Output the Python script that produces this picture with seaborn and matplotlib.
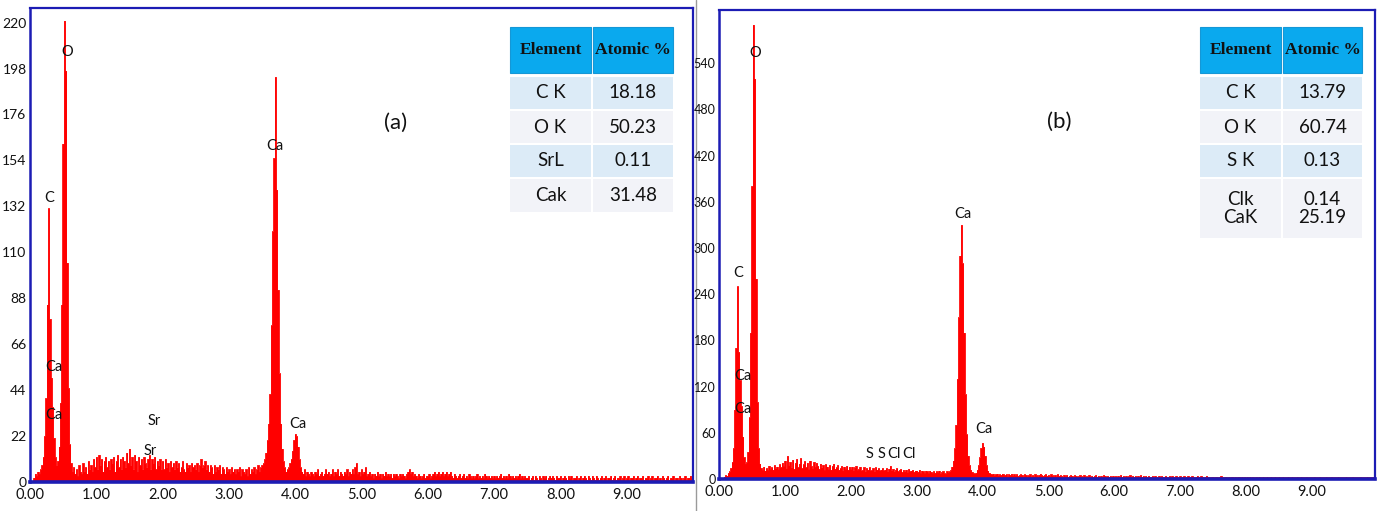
import numpy as np
import pandas as pd
import matplotlib
matplotlib.use("Agg")
import matplotlib.pyplot as plt
from matplotlib.patches import Rectangle
from matplotlib.lines import Line2D
import seaborn as sns

# ---------------------------------------------------------------- data
CHANNEL_KEV = 0.02  # channel width of the spectra (keV)

# EDS counts, sample (a): 0.00 - 9.98 keV, 25 channels per line (0.5 keV)
counts_a = [
    0, 0, 0, 2, 4, 3, 5, 4, 6, 8, 12, 22, 40, 85, 131, 78, 50, 36, 21, 12, 8, 10, 17, 38, 85,
    162, 221, 197, 105, 45, 18, 9, 5, 7, 4, 6, 3, 8, 5, 4, 9, 5, 7, 4, 10, 6, 8, 5, 11, 7,
    12, 6, 13, 8, 11, 5, 10, 12, 7, 10, 6, 11, 9, 12, 5, 10, 13, 7, 11, 6, 12, 10, 7, 14, 9,
    16, 8, 12, 6, 13, 10, 5, 12, 8, 11, 6, 12, 9, 7, 11, 13, 6, 11, 9, 12, 6, 10, 8, 11, 6,
    10, 6, 11, 7, 9, 5, 10, 7, 9, 6, 10, 7, 9, 5, 7, 10, 6, 5, 9, 7, 8, 5, 9, 7, 8,
    6, 9, 5, 8, 11, 7, 8, 10, 6, 8, 5, 8, 7, 4, 8, 5, 7, 6, 8, 4, 7, 6, 4, 7, 5,
    6, 4, 7, 5, 6, 4, 6, 5, 7, 3, 6, 5, 4, 6, 3, 7, 4, 6, 5, 7, 4, 6, 8, 5, 7,
    8, 9, 11, 14, 20, 28, 42, 75, 120, 155, 194, 140, 92, 52, 28, 16, 10, 7, 5, 6, 7, 9, 11, 15, 20,
    23, 22, 17, 11, 7, 5, 4, 6, 3, 5, 4, 3, 5, 4, 3, 5, 4, 6, 3, 4, 5, 3, 4, 6, 4,
    5, 3, 4, 6, 3, 5, 4, 6, 3, 5, 4, 3, 5, 4, 6, 3, 5, 4, 6, 4, 7, 9, 4, 5, 3,
    6, 4, 5, 7, 3, 4, 5, 3, 4, 2, 4, 3, 5, 3, 4, 2, 4, 3, 5, 3, 4, 3, 4, 2, 4,
    3, 4, 3, 2, 4, 3, 4, 3, 2, 4, 5, 6, 4, 5, 3, 4, 3, 2, 4, 3, 2, 3, 4, 2, 3,
    3, 4, 2, 3, 4, 5, 3, 4, 5, 3, 4, 5, 3, 4, 5, 3, 4, 5, 3, 2, 4, 3, 2, 3, 4,
    2, 3, 4, 2, 3, 2, 4, 3, 2, 3, 2, 3, 4, 2, 3, 2, 3, 2, 4, 3, 2, 3, 2, 3, 2,
    3, 2, 3, 2, 3, 4, 2, 3, 2, 3, 2, 4, 3, 2, 3, 2, 3, 2, 3, 4, 2, 3, 2, 3, 2,
    2, 3, 1, 2, 3, 1, 3, 2, 1, 3, 2, 1, 3, 2, 3, 1, 2, 3, 2, 3, 2, 1, 3, 2, 2,
    3, 1, 2, 3, 2, 1, 3, 2, 3, 1, 2, 2, 3, 1, 2, 3, 1, 2, 3, 2, 1, 3, 2, 1, 3,
    2, 1, 3, 2, 1, 2, 3, 1, 2, 3, 1, 2, 2, 3, 1, 2, 3, 1, 2, 2, 3, 1, 2, 3, 1,
    2, 3, 1, 2, 2, 3, 1, 2, 3, 1, 2, 2, 3, 1, 2, 2, 3, 1, 2, 3, 1, 2, 2, 3, 1,
    2, 1, 3, 2, 1, 2, 3, 1, 2, 2, 3, 1, 2, 2, 1, 3, 2, 1, 2, 3, 1, 2, 2, 3, 2,
]

# EDS counts, sample (b): 0.00 - 9.98 keV, 25 channels per line (0.5 keV)
counts_b = [
    0, 0, 0, 0, 3, 5, 4, 8, 10, 14, 22, 40, 90, 170, 250, 165, 128, 95, 55, 28, 20, 22, 35, 80, 190,
    380, 590, 520, 260, 100, 40, 20, 14, 12, 16, 11, 14, 12, 17, 13, 15, 12, 18, 14, 16, 13, 19, 15, 21, 17,
    24, 14, 30, 18, 22, 15, 25, 13, 21, 26, 15, 20, 27, 14, 19, 23, 15, 21, 13, 24, 17, 14, 22, 16, 21,
    17, 13, 20, 15, 18, 12, 19, 16, 13, 18, 12, 17, 20, 13, 15, 18, 12, 14, 17, 11, 16, 13, 17, 12, 16,
    13, 16, 11, 15, 17, 12, 13, 16, 11, 12, 15, 10, 14, 12, 15, 11, 12, 14, 10, 15, 12, 14, 11, 12, 14,
    11, 12, 14, 10, 13, 17, 11, 13, 10, 12, 14, 10, 12, 13, 9, 12, 10, 12, 9, 13, 10, 11, 12, 9, 11,
    11, 9, 12, 8, 11, 10, 8, 11, 10, 8, 11, 9, 8, 10, 8, 10, 9, 11, 7, 9, 10, 8, 7, 10, 9,
    10, 12, 16, 24, 40, 70, 130, 210, 290, 330, 280, 190, 110, 58, 30, 18, 12, 9, 8, 7, 8, 12, 18, 28, 40,
    47, 42, 30, 18, 11, 8, 7, 6, 7, 5, 6, 7, 5, 6, 5, 7, 6, 5, 6, 4, 6, 5, 7, 5, 6,
    5, 6, 4, 5, 6, 5, 4, 6, 5, 4, 5, 6, 4, 5, 4, 6, 5, 4, 5, 7, 5, 4, 5, 6, 4,
    5, 4, 6, 5, 4, 5, 4, 6, 4, 5, 4, 3, 5, 4, 5, 3, 4, 5, 4, 3, 5, 4, 3, 4, 5,
    4, 3, 5, 4, 3, 4, 5, 3, 4, 3, 4, 5, 3, 4, 3, 4, 3, 5, 4, 3, 4, 3, 4, 3, 4,
    3, 4, 3, 4, 3, 5, 3, 4, 3, 4, 3, 4, 5, 3, 4, 3, 4, 3, 4, 3, 5, 3, 4, 3, 4,
    3, 4, 3, 3, 4, 3, 4, 3, 3, 4, 3, 4, 3, 3, 4, 3, 3, 4, 3, 4, 3, 3, 4, 3, 3,
    4, 3, 3, 4, 3, 3, 4, 3, 3, 4, 3, 2, 3, 4, 3, 3, 4, 3, 2, 3, 4, 3, 3, 2, 3,
    3, 2, 3, 3, 2, 3, 4, 3, 2, 3, 3, 2, 3, 2, 3, 3, 2, 3, 2, 3, 3, 2, 3, 2, 3,
    2, 3, 2, 3, 2, 3, 2, 2, 3, 2, 3, 2, 2, 3, 2, 2, 3, 2, 2, 3, 2, 2, 3, 2, 2,
    3, 2, 2, 3, 2, 2, 2, 3, 2, 2, 3, 2, 2, 2, 3, 2, 2, 3, 2, 2, 2, 3, 2, 2, 2,
    2, 2, 3, 2, 2, 2, 3, 2, 2, 2, 2, 3, 2, 2, 2, 3, 2, 2, 2, 2, 3, 2, 2, 2, 2,
    2, 3, 2, 2, 2, 2, 3, 2, 2, 2, 2, 2, 3, 2, 2, 2, 2, 3, 2, 2, 2, 2, 2, 3, 2,
]

# peak annotations: (label, energy keV, counts)
peaks_a = [("C", 0.29, 136), ("O", 0.56, 206), ("Ca", 0.36, 55), ("Ca", 0.36, 32),
           ("Ca", 3.70, 161), ("Ca", 4.04, 28), ("Sr", 1.88, 29), ("Sr", 1.82, 15)]
peaks_b = [("C", 0.29, 268), ("O", 0.55, 553), ("Ca", 0.36, 134), ("Ca", 0.36, 91),
           ("Ca", 3.70, 344), ("Ca", 4.02, 65),
           ("S", 2.29, 32), ("S", 2.46, 32), ("Cl", 2.65, 32), ("Cl", 2.88, 32)]

# quantification tables
elements_a = ["C K", "O K", "SrL", "Cak"]
atomic_a = ["18.18", "50.23", "0.11", "31.48"]
elements_b = ["C K", "O K", "S K", "Clk\nCaK"]
atomic_b = ["13.79", "60.74", "0.13", "0.14\n25.19"]

x_ticks = [0, 1, 2, 3, 4, 5, 6, 7, 8, 9]
y_ticks_a = [0, 22, 44, 66, 88, 110, 132, 154, 176, 198, 220]
y_ticks_b = [0, 60, 120, 180, 240, 300, 360, 420, 480, 540]

# ---------------------------------------------------------------- style
sns.set_theme(style="white")
SANS = ["Lato", "DejaVu Sans"]
plt.rcParams["font.family"] = SANS

W, H = 1383, 511
FRAME = "#1c1cb4"
fig = plt.figure(figsize=(W / 100, H / 100), dpi=100)


def fx(px):
    return px / W


def fy(py):
    return 1 - py / H


def spectrum_axes(box, counts, xmax, ymax, yticks, ytick_size, peaks, tag, tag_xy):
    left, top, right, bottom = box
    ax = fig.add_axes([fx(left), fy(bottom), fx(right - left), (bottom - top) / H])
    df = pd.DataFrame({"energy": np.arange(len(counts)) * CHANNEL_KEV,
                       "counts": counts})
    ax.fill_between(df["energy"], df["counts"], step="mid", color="#ff0000", lw=0)
    sns.lineplot(data=df, x="energy", y="counts", ax=ax, color="#ff0000",
                 lw=0.6, drawstyle="steps-mid", estimator=None)
    ax.set_xlim(0, xmax)
    ax.set_ylim(0, ymax)
    ax.set_xticks(x_ticks)
    ax.set_xticklabels([f"{v:.2f}" for v in x_ticks])
    ax.set_yticks(yticks)
    ax.set_yticklabels([str(v) for v in yticks])
    ax.set_xlabel("")
    ax.set_ylabel("")
    ax.tick_params(axis="both", colors="#111111", length=2,
                   width=0.8, direction="out")
    ax.tick_params(axis="x", pad=2, labelsize=10.5)
    ax.tick_params(axis="y", pad=0.5, labelsize=ytick_size)
    for s in ax.spines.values():
        s.set_color(FRAME)
        s.set_linewidth(1.6)
        s.set_visible(True)
    ax.spines["bottom"].set_linewidth(2.6)
    ax.spines["left"].set_linewidth(1.8)
    for lab, e, c in peaks:
        ax.text(e, c, lab, ha="center", va="center", fontsize=10.5,
                color="#111111", family=SANS)
    ax.text(tag_xy[0], tag_xy[1], tag, ha="center", va="center",
            fontsize=16, color="#111111", family=SANS)
    return ax


ax_a = spectrum_axes((30, 8, 693, 482), counts_a, 10.0, 227, y_ticks_a, 10,
                     peaks_a, "(a)", (5.52, 172))
ax_b = spectrum_axes((719, 10, 1375, 479), counts_b, 9.96, 609, y_ticks_b, 9,
                     peaks_b, "(b)", (5.17, 464))

# divider between the two panels, kept beneath the axes
fig.add_artist(Line2D([fx(696), fx(696)], [0, 1], transform=fig.transFigure,
                      color="#9a9a9a", lw=1.0, zorder=-5))


def quant_table(x0, xs, x1, rows, elements, atomic):
    header_color = "#0aa9ee"
    body_colors = ["#dcebf7", "#f2f3f8"]
    # header row
    htop, hbot = 27, 73
    for a, b, txt in [(x0, xs, "Element"), (xs, x1, "Atomic %")]:
        fig.add_artist(Rectangle((fx(a + 1), fy(hbot)), fx(b - a - 2), (hbot - htop) / H,
                                 transform=fig.transFigure, facecolor=header_color,
                                 edgecolor="#1597d6", lw=0.8))
        fig.text(fx((a + b) / 2), fy((htop + hbot) / 2), txt, ha="center", va="center",
                 fontsize=12.5, fontweight="bold", color="#111111",
                 family=["Liberation Serif", "DejaVu Serif"])
    for i, ((rt, rb), el, at) in enumerate(zip(rows, elements, atomic)):
        col = body_colors[i % 2]
        for a, b, txt in [(x0, xs, el), (xs, x1, at)]:
            fig.add_artist(Rectangle((fx(a + 1), fy(rb)), fx(b - a - 2), (rb - rt) / H,
                                     transform=fig.transFigure, facecolor=col,
                                     edgecolor="none"))
            fig.text(fx((a + b) / 2), fy((rt + rb) / 2), txt, ha="center", va="center",
                     fontsize=13.5, color="#111111", family=SANS, linespacing=1.1)


quant_table(509, 592, 674, [(77, 109), (111, 143), (145, 177), (179, 212)],
            elements_a, atomic_a)
quant_table(1199, 1282, 1363, [(77, 109), (111, 143), (145, 177), (179, 238)],
            elements_b, atomic_b)

fig.savefig("out.png", dpi=100)
